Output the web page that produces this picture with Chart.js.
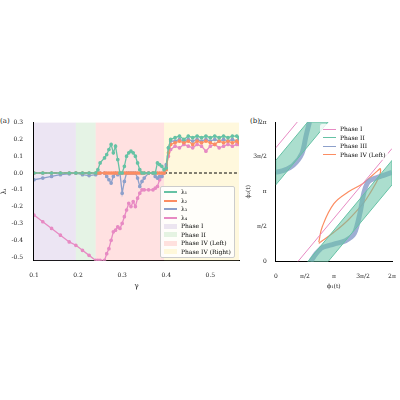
<!DOCTYPE html>
<html><head><meta charset="utf-8">
<script src="https://cdn.jsdelivr.net/npm/chart.js@4"></script>
<style>
body{margin:0;background:#fff;font-family:"DejaVu Serif",serif;}
#wrap{position:relative;width:400px;height:400px;}
.cv{position:absolute;}
.lbl{position:absolute;font-size:7px;color:#222;}
.leg{position:absolute;background:rgba(255,255,255,0.85);border:1px solid #ccc;border-radius:2px;padding:1px 3px;font-size:6px;line-height:8.5px;}
.leg span.sw{display:inline-block;width:13px;height:2px;vertical-align:middle;margin-right:4px;}
.leg span.bx{display:inline-block;width:13px;height:5px;vertical-align:middle;margin-right:4px;}
</style></head><body>
<div id="wrap">
  <div class="lbl" style="left:0;top:117px">(a)</div>
  <div class="lbl" style="left:250px;top:117px">(b)</div>
  <div class="cv" style="left:0;top:116px;width:243px;height:174px"><canvas id="left"></canvas></div>
  <div class="cv" style="left:245px;top:116px;width:155px;height:174px"><canvas id="right"></canvas></div>
  <div class="leg" id="legA" style="left:160px;top:186px"></div>
  <div class="leg" id="legB" style="left:320px;top:124px;border:none;background:rgba(255,255,255,0.8)"></div>
</div>
<script>
const gamma = [0.10,0.12,0.14,0.16,0.18,0.195,0.21,0.225,0.24,0.245,0.25,0.26,0.265,0.27,0.275,0.28,0.285,0.29,0.295,0.30,0.305,0.31,0.315,0.32,0.325,0.33,0.335,0.34,0.345,0.35,0.36,0.37,0.375,0.38,0.385,0.39,0.395,0.40,0.405,0.41,0.42,0.43,0.44,0.45,0.46,0.47,0.48,0.49,0.50,0.51,0.52,0.53,0.54,0.55,0.56,0.565];
const lambda1 = [0,0,0,0,0,0,0,0,0,0.02,0.06,0.09,0.11,0.14,0.17,0.12,0.16,0.08,0,0,0.04,0.10,0.12,0.13,0.12,0.10,0.06,0.02,0,0,0,0,0,0.06,0.05,0.04,0.02,0.03,0.15,0.20,0.21,0.22,0.20,0.22,0.21,0.22,0.21,0.22,0.21,0.22,0.21,0.22,0.21,0.22,0.22,0.21];
const lambda2 = [0,0,0,0,0,0,0,0,0,0,0,0,0,0,0,0,0,0,0,0,0,0,0,0,0,0,0,0,0,0,0,0,0,0,0,0,0,0.02,0.12,0.17,0.18,0.19,0.18,0.19,0.17,0.19,0.18,0.19,0.18,0.17,0.19,0.18,0.19,0.18,0.19,0.18];
const lambda3 = [-0.04,-0.03,-0.02,-0.01,-0.005,0,-0.01,-0.015,-0.01,0,0,0,-0.02,-0.04,-0.06,-0.02,0,-0.01,0,-0.12,-0.05,0,0,0,0,0,-0.03,-0.08,-0.05,-0.03,0,0,-0.02,-0.03,-0.02,-0.02,0,0.05,0.15,0.19,0.19,0.20,0.19,0.20,0.19,0.20,0.19,0.20,0.19,0.20,0.19,0.20,0.19,0.20,0.19,0.20];
const lambda4 = [-0.25,-0.29,-0.33,-0.37,-0.41,-0.43,-0.46,-0.49,-0.52,-0.52,-0.52,-0.52,-0.48,-0.45,-0.40,-0.35,-0.34,-0.32,-0.33,-0.30,-0.26,-0.22,-0.18,-0.20,-0.17,-0.20,-0.15,-0.12,-0.10,-0.10,-0.10,-0.10,-0.09,-0.08,-0.04,-0.02,0,0.04,0.10,0.14,0.16,0.15,0.17,0.16,0.15,0.17,0.16,0.13,0.16,0.17,0.15,0.16,0.17,0.16,0.17,0.17];
const seriesNames = ['λ₁','λ₂','λ₃','λ₄'];
const seriesColors = ['#66c2a5','#fc8d62','#8da0cb','#e78ac3'];
const phaseNames = ['Phase I','Phase II','Phase IV (Left)','Phase IV (Right)'];
const phaseBounds = [[0.1,0.195],[0.195,0.24],[0.24,0.395],[0.395,0.565]];
const phaseColors = ['rgba(200,180,220,0.35)','rgba(180,220,180,0.35)','rgba(255,170,170,0.35)','rgba(255,240,180,0.45)'];
const xTicksA = [0.1,0.2,0.3,0.4,0.5];
const yTicksA = [-0.5,-0.4,-0.3,-0.2,-0.1,0,0.1,0.2,0.3];

// right panel, in units of pi
const phase1A = [{x:0,y:1.63},{x:0.37,y:2}];
const phase1B = [{x:0.38,y:0},{x:2,y:1.62}];
const phase2A = [{x:0.55,y:0},{x:0.9,y:0},{x:2,y:1.1},{x:2,y:1.45},{x:0.55,y:0}];
const phase2B = [{x:0,y:1.1},{x:0,y:1.45},{x:0.55,y:2},{x:0.9,y:2},{x:0,y:1.1}];
const phase3A = [{x:0.6,y:0},{x:0.7,y:0.12},{x:0.8,y:0.2},{x:1.0,y:0.25},{x:1.2,y:0.3},{x:1.35,y:0.4},{x:1.45,y:0.7},{x:1.52,y:1.0},{x:1.6,y:1.15},{x:1.8,y:1.22},{x:2,y:1.28}];
const phase3B = [{x:0,y:1.28},{x:0.15,y:1.31},{x:0.3,y:1.38},{x:0.45,y:1.55},{x:0.52,y:1.8},{x:0.58,y:2}];
const phase4 = [{x:0.74,y:0.28},{x:0.8,y:0.5},{x:1.0,y:0.83},{x:1.25,y:1.0},{x:1.5,y:1.12},{x:1.75,y:1.3},{x:1.8,y:1.33},{x:1.78,y:1.22},{x:1.6,y:0.95},{x:1.5,y:0.83},{x:1.25,y:0.6},{x:1.0,y:0.42},{x:0.8,y:0.3},{x:0.74,y:0.26}];
const piTicks = {0:'0',0.5:'π/2',1:'π',1.5:'3π/2',2:'2π'};

const font = {family:'"DejaVu Serif", serif', size:6};
Chart.defaults.font = font;
Chart.defaults.color = '#222';

const bands = {
  id:'bands',
  beforeDatasetsDraw(chart){
    const {ctx, chartArea:a, scales:{x,y}} = chart;
    ctx.save();
    phaseBounds.forEach((b,i)=>{
      const x0 = x.getPixelForValue(b[0]), x1 = x.getPixelForValue(b[1]);
      ctx.fillStyle = phaseColors[i];
      ctx.fillRect(x0, a.top, x1-x0, a.bottom-a.top);
    });
    const y0 = y.getPixelForValue(0);
    ctx.strokeStyle = '#000'; ctx.lineWidth = 1; ctx.setLineDash([3,2]);
    ctx.beginPath(); ctx.moveTo(a.left,y0); ctx.lineTo(a.right,y0); ctx.stroke();
    ctx.restore();
  }
};

new Chart(document.getElementById('left'), {
  type:'line',
  data:{labels:gamma, datasets:[lambda1,lambda2,lambda3,lambda4].map((d,i)=>({
    label:seriesNames[i], data:gamma.map((g,j)=>({x:g,y:d[j]})),
    borderColor:seriesColors[i], backgroundColor:seriesColors[i],
    borderWidth:1.3, pointRadius:1.2, pointHoverRadius:0
  }))},
  options:{
    responsive:true, maintainAspectRatio:false, animation:false,
    layout:{padding:{left:0,right:4,top:6}},
    plugins:{legend:{display:false}, tooltip:{enabled:false}},
    scales:{
      x:{type:'linear', min:0.1, max:0.565, grid:{display:false}, border:{color:'#000'},
         afterBuildTicks:s=>{s.ticks=xTicksA.map(v=>({value:v}));},
         ticks:{callback:v=>v.toFixed(1), maxRotation:0},
         title:{display:true, text:'γ', font:{...font,size:7}, padding:0}},
      y:{min:-0.52, max:0.3, grid:{display:false}, border:{color:'#000'},
         afterBuildTicks:s=>{s.ticks=yTicksA.map(v=>({value:v}));},
         ticks:{callback:v=>v.toFixed(1)},
         title:{display:true, text:'λᵢ', font:{...font,size:7}, padding:0}}
    }
  },
  plugins:[bands]
});

const line = (d,c,w,extra={}) => Object.assign({data:d, borderColor:c, backgroundColor:c, borderWidth:w, pointRadius:0, showLine:true, tension:0.3}, extra);
new Chart(document.getElementById('right'), {
  type:'scatter',
  data:{datasets:[
    line(phase2A,'#66c2a5',1,{fill:'shape', backgroundColor:'rgba(102,194,165,0.55)', tension:0}),
    line(phase2B,'#66c2a5',1,{fill:'shape', backgroundColor:'rgba(102,194,165,0.55)', tension:0}),
    line(phase3A,'rgba(141,160,203,0.85)',5),
    line(phase3B,'rgba(141,160,203,0.85)',5),
    line(phase1A,'#e78ac3',1,{tension:0}),
    line(phase1B,'#e78ac3',1,{tension:0}),
    line(phase4,'#fc8d62',1.2,{tension:0.4})
  ]},
  options:{
    responsive:true, maintainAspectRatio:false, animation:false,
    layout:{padding:{left:0,right:8,top:6}},
    plugins:{legend:{display:false}, tooltip:{enabled:false}},
    scales:{
      x:{min:0, max:2, grid:{display:false}, border:{color:'#000'},
         afterBuildTicks:s=>{s.ticks=[0,0.5,1,1.5,2].map(v=>({value:v}));},
         ticks:{callback:v=>piTicks[v], maxRotation:0},
         title:{display:true, text:'ϕ₁(t)', font:{...font,size:6}, padding:0}},
      y:{min:0, max:2, grid:{display:false}, border:{color:'#000'},
         afterBuildTicks:s=>{s.ticks=[0,0.5,1,1.5,2].map(v=>({value:v}));},
         ticks:{callback:v=>piTicks[v], padding:1},
         title:{display:true, text:'ϕ₂(t)', font:{...font,size:6}, padding:0}}
    }
  }
});

document.getElementById('legA').innerHTML =
  seriesNames.map((n,i)=>`<div><span class="sw" style="background:${seriesColors[i]}"></span>${n}</div>`).join('') +
  phaseNames.map((n,i)=>`<div><span class="bx" style="background:${phaseColors[i]}"></span>${n}</div>`).join('');
const rightNames = ['Phase I','Phase II','Phase III','Phase IV (Left)'];
const rightColors = ['#e78ac3','#66c2a5','#8da0cb','#fc8d62'];
document.getElementById('legB').innerHTML =
  rightNames.map((n,i)=>`<div><span class="sw" style="background:${rightColors[i]};height:1px"></span>${n}</div>`).join('');
</script>
</body></html>
